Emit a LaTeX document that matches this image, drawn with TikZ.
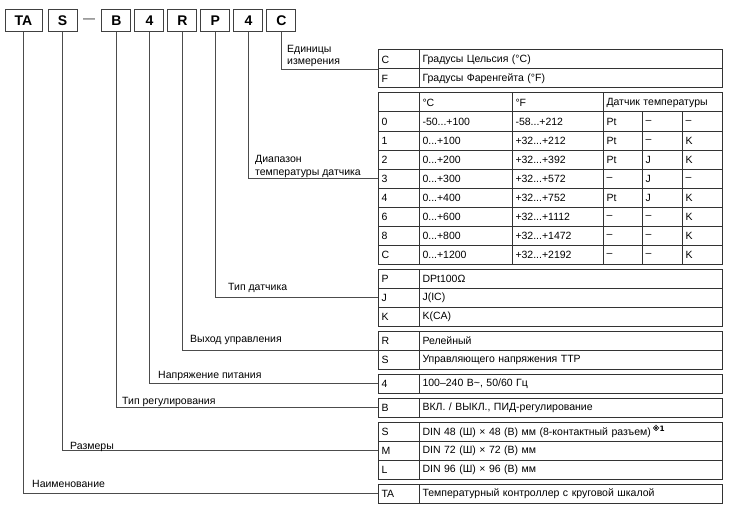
\documentclass[tikz,border=0pt]{standalone}
\usepackage{fontspec}
\setmainfont{Liberation Sans}
\newfontfamily\symfont{DejaVu Sans}
\usetikzlibrary{positioning}
\newcommand{\rng}[2]{#1...#2}

\tikzstyle{codebox} = [rectangle, minimum width=29pt, minimum height=22pt, inner sep=0pt, outer sep=0pt, text centered, draw=black!75, line width=1pt, font=\bfseries\fontsize{14}{14}\selectfont]
\tikzstyle{cell} = [rectangle, minimum height=19pt, inner xsep=3.5pt, inner ysep=0pt, outer sep=0pt, anchor=north west, draw=black!80, line width=1pt, align=left, font=\fontsize{10.5}{12}\selectfont]
\tikzstyle{codecell} = [cell, text width=34pt]
\tikzstyle{desccell} = [cell, text width=296pt]
\tikzstyle{link} = [draw=black!70, line width=0.7pt]
\tikzstyle{tag} = [anchor=base west, align=left, inner sep=0pt, font=\fontsize{10.5}{12.5}\selectfont]

\begin{document}
\begin{tikzpicture}[x=1pt, y=-1pt]
    \useasboundingbox (0,0) rectangle (730,508);

    % model code boxes
    \node[codebox, minimum width=37pt, anchor=north west] (kTA) at (5,10) {TA};
    \node[codebox, right=6pt of kTA] (kS) {S};
    \node[right=6pt of kS, inner sep=0pt, text=black!85, font=\fontsize{12}{12}\selectfont] (kDash) {—};
    \node[codebox, right=6.5pt of kDash] (kB) {B};
    \node[codebox, right=4pt of kB] (kV) {4};
    \node[codebox, right=4pt of kV] (kR) {R};
    \node[codebox, right=4pt of kR] (kP) {P};
    \node[codebox, right=4pt of kP] (kRng) {4};
    \node[codebox, right=4pt of kRng] (kC) {C};

    % units
    \node[codecell] (uC) at (378,50) {C};
    \node[desccell, right=0pt of uC] (uCd) {Градусы Цельсия (°C)};
    \node[codecell, below=0pt of uC] (uF) {F};
    \node[desccell, right=0pt of uF] (uFd) {Градусы Фаренгейта (°F)};

    % temperature range
    \node[cell, text width=34pt] (ma0) at (378,93) {};
    \node[cell, text width=86pt, right=0pt of ma0] (mb0) {°C};
    \node[cell, text width=84pt, right=0pt of mb0] (mc0) {°F};
    \node[cell, text width=112pt, right=0pt of mc0] (md0) {Датчик температуры};
    \foreach \n/\a/\b/\c/\d/\e [count=\i] in {
        0/\rng{-50}{+100}/\rng{-58}{+212}/Pt/–/–,
        1/\rng{0}{+100}/\rng{+32}{+212}/Pt/–/K,
        2/\rng{0}{+200}/\rng{+32}{+392}/Pt/J/K,
        3/\rng{0}{+300}/\rng{+32}{+572}/–/J/–,
        4/\rng{0}{+400}/\rng{+32}{+752}/Pt/J/K,
        6/\rng{0}{+600}/\rng{+32}{+1112}/–/–/K,
        8/\rng{0}{+800}/\rng{+32}{+1472}/–/–/K,
        C/\rng{0}{+1200}/\rng{+32}{+2192}/–/–/K} {
        \node[cell, text width=34pt] (ma\i) at (378,93+19*\i) {\n};
        \node[cell, text width=86pt, right=0pt of ma\i] (mb\i) {\a};
        \node[cell, text width=84pt, right=0pt of mb\i] (mc\i) {\b};
        \node[cell, text width=32pt, right=0pt of mc\i] (md\i) {\c};
        \node[cell, text width=33pt, right=0pt of md\i] (me\i) {\d};
        \node[cell, text width=33pt, right=0pt of me\i] (mf\i) {\e};
    }

    % sensor
    \node[codecell] (sP) at (378,269) {P};
    \node[desccell, right=0pt of sP] (sPd) {DPt100Ω};
    \node[codecell, below=0pt of sP] (sJ) {J};
    \node[desccell, right=0pt of sJ] (sJd) {J(IC)};
    \node[codecell, below=0pt of sJ] (sK) {K};
    \node[desccell, right=0pt of sK] (sKd) {K(CA)};

    % output
    \node[codecell] (oR) at (378,331) {R};
    \node[desccell, right=0pt of oR] (oRd) {Релейный};
    \node[codecell, below=0pt of oR] (oS) {S};
    \node[desccell, right=0pt of oS] (oSd) {Управляющего напряжения TTP};

    % power supply
    \node[codecell] (v4) at (378,374) {4};
    \node[desccell, right=0pt of v4] (v4d) {100–240 В\textasciitilde, 50/60 Гц};

    % control type
    \node[codecell] (cB) at (378,398) {B};
    \node[desccell, right=0pt of cB] (cBd) {ВКЛ. / ВЫКЛ., ПИД-регулирование};

    % size
    \node[codecell] (dS) at (378,422) {S};
    \node[desccell, right=0pt of dS] (dSd) {DIN 48 (Ш) × 48 (В) мм (8-контактный разъем)\,\textsuperscript{\symfont\bfseries ※1}};
    \node[codecell, below=0pt of dS] (dM) {M};
    \node[desccell, right=0pt of dM] (dMd) {DIN 72 (Ш) × 72 (В) мм};
    \node[codecell, below=0pt of dM] (dL) {L};
    \node[desccell, right=0pt of dL] (dLd) {DIN 96 (Ш) × 96 (В) мм};

    % name
    \node[codecell] (nTA) at (378,484) {TA};
    \node[desccell, right=0pt of nTA] (nTAd) {Температурный контроллер с круговой шкалой};

    % leaders
    \draw[link] (kC.south) |- (uC.south west);
    \draw[link] (kRng.south) |- (ma4.west);
    \draw[link] (kP.south) |- (sJ.west);
    \draw[link] (kR.south) |- (oR.south west);
    \draw[link] (kV.south) |- (v4.west);
    \draw[link] (kB.south) |- (cB.west);
    \draw[link] (kS.south) |- (dM.west);
    \draw[link] (kTA.south) |- (nTA.west);

    % leader labels
    \node[tag, anchor=south west] (lC) at (287,67) {Единицы\\измерения};
    \node[tag, anchor=south west] (lRng) at (255,177.5) {Диапазон\\температуры датчика};
    \node[tag] (lP) at (228,290) {Тип датчика};
    \node[tag] (lR) at (190,342) {Выход управления};
    \node[tag] (lV) at (158,378) {Напряжение питания};
    \node[tag] (lB) at (122,404) {Тип регулирования};
    \node[tag] (lS) at (70,449) {Размеры};
    \node[tag] (lTA) at (32,487) {Наименование};
\end{tikzpicture}
\end{document}
